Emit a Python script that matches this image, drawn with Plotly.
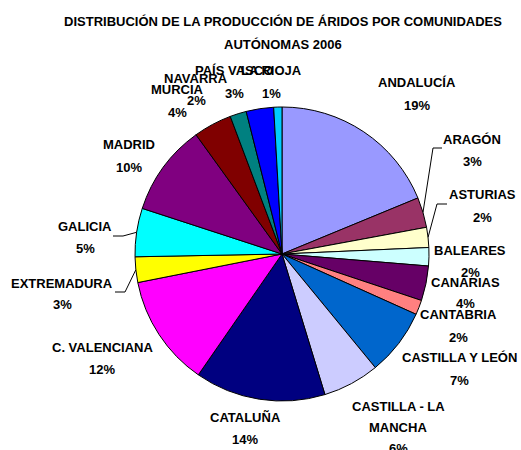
import math
import plotly.graph_objects as go

# ---- data ----
regions = ["ANDALUCÍA", "ARAGÓN", "ASTURIAS", "BALEARES", "CANARIAS", "CANTABRIA",
           "CASTILLA Y LEÓN", "CASTILLA - LA MANCHA", "CATALUÑA", "C. VALENCIANA",
           "EXTREMADURA", "GALICIA", "MADRID", "MURCIA", "NAVARRA", "PAÍS VASCO", "LA RIOJA"]
shares = [18.7, 3.3, 2.2, 2.0, 3.8, 1.6, 7.3, 6.2, 14.3, 12.2, 2.8, 5.3, 10.0, 4.2, 1.8, 3.0, 0.9]
colors = ["#9999FF", "#993366", "#FFFFCC", "#CCFFFF", "#660066", "#FF8080", "#0066CC",
          "#CCCCFF", "#000080", "#FF00FF", "#FFFF00", "#00FFFF", "#800080", "#800000",
          "#008080", "#0000FF", "#00CCFF"]

# ---- layout (pixels from top-left) ----
W, H = 521, 450
cx, cy, r = 282, 254, 147
FONT = "Liberation Sans, Arial, sans-serif"
FS = 13
# label lines (name lines, then percent line): centre x, list of line y's
label_layout = {
    "ANDALUCÍA": (417, [83], 105),
    "ARAGÓN": (472, [139], 161),
    "ASTURIAS": (482, [194], 217),
    "BALEARES": (470, [250], 272),
    "CANARIAS": (465, [282], 303),
    "CANTABRIA": (458, [314], 337),
    "CASTILLA Y LEÓN": (459, [357], 380),
    "CASTILLA - LA MANCHA": (398, [406, 427], 448),
    "CATALUÑA": (245, [417], 439),
    "C. VALENCIANA": (102, [347], 369),
    "EXTREMADURA": (62, [283], 304),
    "GALICIA": (85, [226], 248),
    "MADRID": (129, [145], 167),
    "MURCIA": (177, [90], 112),
    "NAVARRA": (196, [78], 100),
    "PAÍS VASCO": (234, [70], 93),
    "LA RIOJA": (271, [70], 93),
}
name_lines = {"CASTILLA - LA MANCHA": ["CASTILLA - LA", "MANCHA"]}
# leader lines: elbow point and end point near the label
leaders = {
    "ARAGÓN": [(433, 148), (442, 148)],
    "ASTURIAS": [(437, 204), (447, 204)],
    "GALICIA": [(123, 236), (113, 236)],
    "EXTREMADURA": [(125, 292), (115, 292)],
}

def px(x):
    return x / W

def py(y):
    return 1 - y / H

fig = go.Figure(go.Pie(
    labels=regions, values=shares, sort=False, direction="clockwise", rotation=0,
    marker=dict(colors=colors, line=dict(color="black", width=1)),
    textinfo="none", showlegend=False, hoverinfo="label+percent",
    domain=dict(x=[px(cx - r), px(cx + r)], y=[py(cy + r), py(cy - r)]),
))

total = sum(shares)
annotations = []
shapes = []
cum = 0.0
for name, v in zip(regions, shares):
    mid = (cum + v / 2) / total * 2 * math.pi
    cum += v
    x0, ys, yp = label_layout[name]
    lines = name_lines.get(name, [name])
    for t, yy in zip(lines, ys):
        annotations.append(dict(text=f"<b>{t}</b>", x=px(x0), y=py(yy), xref="paper", yref="paper",
                                xanchor="center", yanchor="middle", showarrow=False,
                                font=dict(family=FONT, size=FS, color="black")))
    pct = round(v / total * 100)
    annotations.append(dict(text=f"<b>{pct}%</b>", x=px(x0), y=py(yp), xref="paper", yref="paper",
                            xanchor="center", yanchor="middle", showarrow=False,
                            font=dict(family=FONT, size=FS, color="black")))
    if name in leaders:
        sx = cx + r * math.sin(mid)
        sy = cy - r * math.cos(mid)
        pts = [(sx, sy)] + leaders[name]
        path = "M " + " L ".join(f"{px(a)},{py(b)}" for a, b in pts)
        shapes.append(dict(type="path", path=path, xref="paper", yref="paper",
                           line=dict(color="black", width=1)))

annotations.append(dict(text="<b>AUTÓNOMAS 2006</b>", x=px(283), y=py(45), xref="paper", yref="paper",
                        xanchor="center", yanchor="middle", showarrow=False,
                        font=dict(family=FONT, size=FS, color="black")))

fig.update_layout(
    width=W, height=H, margin=dict(l=0, r=0, t=0, b=0),
    paper_bgcolor="white", plot_bgcolor="white",
    title=dict(text="<b>DISTRIBUCIÓN DE LA PRODUCCIÓN DE ÁRIDOS POR COMUNIDADES</b>",
               x=px(283), xanchor="center", y=py(21), yanchor="middle",
               font=dict(family=FONT, size=FS, color="black")),
    annotations=annotations, shapes=shapes,
    font=dict(family=FONT),
)
fig.write_html("out.html", config={"displayModeBar": False},
               post_script="document.body.style.margin='0px';")
